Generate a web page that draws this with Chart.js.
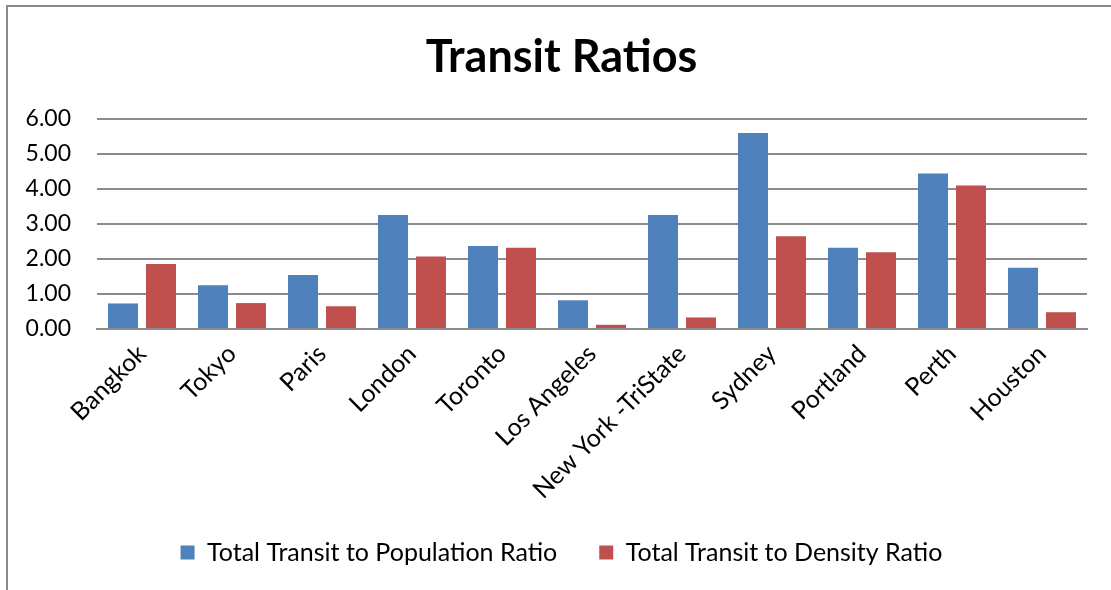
<!DOCTYPE html>
<html>
<head>
<meta charset="utf-8">
<script src="https://cdn.jsdelivr.net/npm/chart.js@4"></script>
<style>
  body { margin: 0; background: #fff; }
  #wrap { position: relative; width: 1111px; height: 590px; }
  #frame {
    position: absolute; left: 6px; top: 5px; right: -10px; bottom: -10px;
    border-left: 2px solid #8c8c8c; border-top: 2px solid #8c8c8c;
  }
  canvas { position: absolute; left: 0; top: 0; }
</style>
</head>
<body>
<div id="wrap">
  <div id="frame"></div>
  <canvas id="c" width="1111" height="590"></canvas>
</div>
<script>
const cities = [
  "Bangkok", "Tokyo", "Paris", "London", "Toronto", "Los Angeles",
  "New York -TriState", "Sydney", "Portland", "Perth", "Houston"
];

const populationRatio = [0.73, 1.25, 1.54, 3.26, 2.37, 0.82, 3.26, 5.60, 2.32, 4.44, 1.75];

const densityRatio = [1.86, 0.74, 0.65, 2.07, 2.32, 0.12, 0.33, 2.65, 2.19, 4.10, 0.48];

const font = "Lato, 'Open Sans', sans-serif";

new Chart(document.getElementById("c"), {
  type: "bar",
  data: {
    labels: cities,
    datasets: [
      {
        label: "Total Transit to Population Ratio",
        data: populationRatio,
        backgroundColor: "#4f81bd"
      },
      {
        label: "Total Transit to Density Ratio",
        data: densityRatio,
        backgroundColor: "#c0504d"
      }
    ]
  },
  options: {
    responsive: false,
    animation: false,
    categoryPercentage: 0.844,
    barPercentage: 0.79,
    layout: { padding: { left: 18, right: 6, top: 12, bottom: 15 } },
    plugins: {
      title: {
        display: true,
        text: "Transit Ratios",
        color: "#000",
        font: { family: font, size: 45, weight: "bold" },
        padding: { top: 18, bottom: 35 }
      },
      legend: {
        position: "bottom",
        labels: {
          color: "#000",
          font: { family: font, size: 25 },
          boxWidth: 14,
          boxHeight: 14,
          padding: 42
        }
      },
      tooltip: { enabled: false }
    },
    scales: {
      x: {
        afterFit: s => { s.height = 169; },
        grid: { display: false, drawTicks: false },
        border: { color: "#8c8c8c", width: 2 },
        ticks: {
          color: "#000",
          font: { family: font, size: 25 },
          maxRotation: 45,
          minRotation: 45,
          padding: 10
        }
      },
      y: {
        min: 0,
        max: 6,
        afterFit: s => { s.width = 79; },
        grid: { color: "#8c8c8c", lineWidth: 2, drawTicks: false },
        border: { display: false },
        ticks: {
          stepSize: 1,
          color: "#000",
          font: { family: font, size: 23 },
          padding: 26,
          callback: v => v.toFixed(2)
        }
      },
      // empty right margin so the title and legend centre like the original
      yRight: {
        position: "right",
        min: 0,
        max: 6,
        afterFit: s => { s.width = 18; },
        grid: { drawOnChartArea: false, drawTicks: false },
        border: { display: false },
        ticks: { display: false }
      }
    }
  }
});
</script>
</body>
</html>
